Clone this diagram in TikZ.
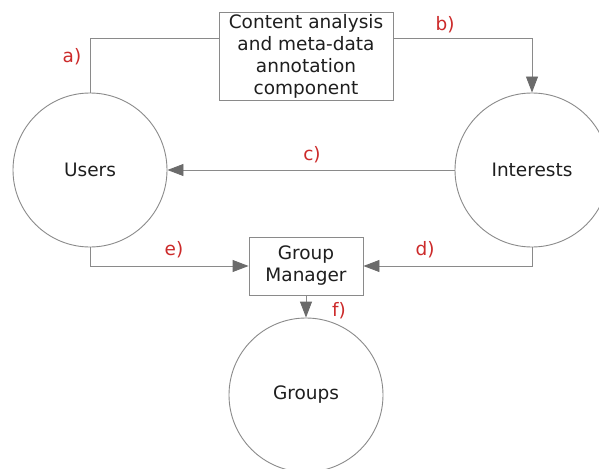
\documentclass[tikz,border=0pt]{standalone}
\usepackage{fontspec}
\setmainfont{DejaVu Sans}
\usetikzlibrary{positioning,arrows.meta}
\definecolor{linegrey}{HTML}{8A8A8A}
\definecolor{tipgrey}{HTML}{6B6B6B}
\definecolor{textdark}{HTML}{1E1E1E}
\definecolor{steplabel}{HTML}{CC2A2A}
\tikzset{
  base/.style={draw=linegrey, line width=0.9pt, text=textdark,
               font=\fontsize{18.5}{22}\selectfont, align=center},
  store/.style={base, circle, minimum size=154pt, inner sep=0pt},
  proc/.style ={base, rectangle, inner sep=0pt},
  flow/.style ={draw=linegrey, line width=0.9pt},
  arrflow/.style={flow, -{Triangle[length=16pt, width=12pt, fill=tipgrey, color=tipgrey]}},
  steplbl/.style={font=\fontsize{18.5}{22}\selectfont, text=steplabel, inner sep=0pt},
}

\begin{document}
\begin{tikzpicture}[x=1pt, y=-1pt]
\useasboundingbox (0,0) rectangle (599,468);

% ----------------------------------------------- data stores
\node[store] (users)     at (90,170)  {\raisebox{-1.5pt}{Users}};
\node[store] (interests) at (532,170) {\raisebox{-1.5pt}{Interests}};
\node[store] (groups)    at (306,395) {\raisebox{-1.5pt}{Groups}};

% ----------------------------------------------- processing blocks
\node[proc, minimum width=174pt, minimum height=88pt] (content) at (306,56)
  {\raisebox{-3pt}{\parbox{170pt}{\centering
   Content analysis\\and meta-data\\annotation\\component}}};
\node[proc, minimum width=114pt, minimum height=58pt] (manager) at (306,266)
  {Group\\Manager};

% ----------------------------------------------- connectors
\draw[flow]    (users.north) |- ([yshift=18pt]content.west);
\draw[arrflow] ([yshift=18pt]content.east) -| (interests.north);
\draw[arrflow] (interests.west) -- (users.east);
\draw[arrflow] (users.south) |- (manager.west);
\draw[arrflow] (interests.south) |- (manager.east);
\draw[arrflow] (manager.south) -- (groups.north);

% ----------------------------------------------- step labels
\node[steplbl] (la) at (72,57)   {a)};
\node[steplbl] (lb) at (445,25)  {b)};
\node[steplbl] (lc) at (312,155) {c)};
\node[steplbl] (ld) at (425,250) {d)};
\node[steplbl] (le) at (174,250) {e)};
\node[steplbl] (lf) at (339,311) {f)};

\end{tikzpicture}
\end{document}
